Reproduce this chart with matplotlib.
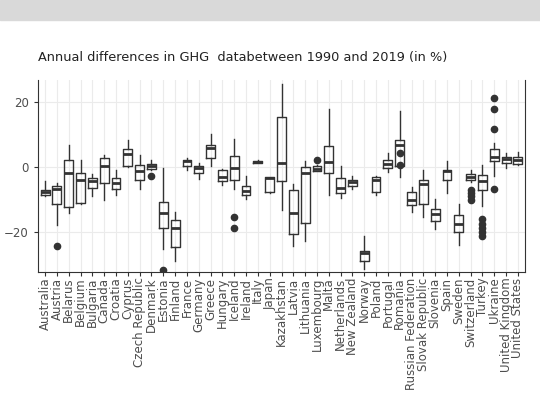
import matplotlib
matplotlib.use("Agg")
import matplotlib.pyplot as plt

countries = ["Australia","Austria","Belarus","Belgium","Bulgaria","Canada","Croatia","Cyprus",
 "Czech Republic","Denmark","Estonia","Finland","France","Germany","Greece","Hungary","Iceland",
 "Ireland","Italy","Japan","Kazakhstan","Latvia","Lithuania","Luxembourg","Malta","Netherlands",
 "New Zealand","Norway","Poland","Portugal","Romania","Russian Federation","Slovak Republic",
 "Slovenia","Spain","Sweden","Switzerland","Turkey","Ukraine","United Kingdom","United States"]
# whislo, q1, med, q3, whishi
whislo = [-8.9,-17.8,-14,-11.4,-8.9,-10.2,-8.6,0,-6.6,-1.0,-25.1,-28.6,-0.8,-3.6,0.2,-5.6,-6.6,-9.9,1.2,-7.9,-13,
          -24.2,-22.6,-1.2,-8.6,-9.6,-6.6,-31.3,-8.6,-1.5,-3,-13.7,-15.2,-19.1,-7.8,-23.7,-4.6,-11.9,-2.8,-0.2,0.5]
q1 = [-8.6,-11.2,-12.2,-10.9,-6.3,-4.9,-6.6,0.2,-4.1,-0.5,-18.6,-24.6,0.2,-1.8,2.7,-4.3,-3.9,-8.6,1.3,-7.7,-4.4,
      -20.5,-17.1,-1.2,-1.8,-8.1,-5.7,-28.6,-7.6,-0.3,0.2,-11.5,-11.2,-16.5,-3.9,-19.8,-4.1,-7.1,1.7,1.2,1.0]
med = [-7.7,-6.7,-1.8,-3.9,-4.4,0.2,-4.8,4.1,-1.3,0.2,-14.2,-18.8,1.7,-0.2,5.9,-3.2,-0.2,-7.4,1.6,-3.4,1.3,
       -14,-1.8,-0.5,1.4,-6.4,-4.7,-26.4,-4.1,1.0,6.6,-10.2,-5.3,-14.5,-1.3,-17.5,-3.0,-4.3,3.2,2.3,2.0]
q3 = [-6.9,-5.9,2.0,-1.7,-3.4,2.7,-3.4,5.6,0.7,0.8,-10.7,-16.2,2.0,0.3,6.6,-1.0,3.4,-5.9,1.8,-3.0,15.2,
      -6.9,0,0.2,6.3,-3.4,-3.9,-25.6,-3.0,2.0,8.3,-7.6,-4.1,-12.7,-0.8,-14.7,-2.2,-2.3,5.6,3.2,3.2]
whishi = [-4.4,-4.9,6.8,2.2,-2.2,3.6,-0.8,8.4,3.6,2.2,-0.2,-13.7,2.8,1.2,10.2,-0.5,8.6,-2.7,2.0,-3.0,25.4,
          -5.1,1.8,0.5,17.8,0.3,-2.7,-21.1,-2.7,4.3,17,-6.1,-0.8,-9.8,1.8,-11.4,-0.8,0.7,7.4,4.3,4.6]
outliers = {"Austria":[-24.2],"Denmark":[-2.7],"Estonia":[-31.5],"Iceland":[-15.2,-18.8],
            "Luxembourg":[2.2],"Romania":[4.3,0.7],"Switzerland":[-6.9,-7.9,-8.9,-10.2],
            "Turkey":[-16,-17.3,-18.5,-19.8,-21.1],"Ukraine":[21.1,17.6,11.7,-6.8]}

fig = plt.figure(figsize=(5.4,4.07), dpi=100)
fig.patches.append(plt.Rectangle((0,1-20/407),1,20/407,transform=fig.transFigure,color="#d9d9d9",zorder=0))
ax = fig.add_axes([38/540, 1-272/407, 487/540, 192/407])
stats = []
for i,c in enumerate(countries):
    stats.append(dict(label=c, whislo=whislo[i], q1=q1[i], med=med[i], q3=q3[i], whishi=whishi[i],
                      fliers=outliers.get(c, [])))
pos = list(range(1,len(countries)+1))
ax.bxp(stats, positions=pos, widths=0.75, showcaps=False,
       boxprops=dict(color="#333333", lw=1),
       medianprops=dict(color="#333333", lw=2),
       whiskerprops=dict(color="#333333", lw=1),
       flierprops=dict(marker="o", markerfacecolor="#333333", markeredgecolor="#333333", markersize=4.5))
ax.set_xlim(0.4, len(countries)+0.6)
ax.set_ylim(-32.1, 26.6)
ax.set_yticks([-20,0,20])
ax.set_xticks(pos)
ax.set_xticklabels(countries, rotation=90, fontsize=8.5, color="#4d4d4d")
ax.tick_params(axis="y", labelsize=8.5, labelcolor="#4d4d4d", color="#333333", length=3)
ax.tick_params(axis="x", color="#333333", length=3, pad=1)
ax.grid(True, color="#ebebeb", lw=0.8)
ax.set_axisbelow(True)
for s in ax.spines.values():
    s.set_color("#333333")
ax.spines["top"].set_visible(False)
fig.text(38/540, 1-57/407, "Annual differences in GHG  databetween 1990 and 2019 (in %)", fontsize=9.3, va="center", color="#222222")
fig.savefig("out.png", dpi=100)
